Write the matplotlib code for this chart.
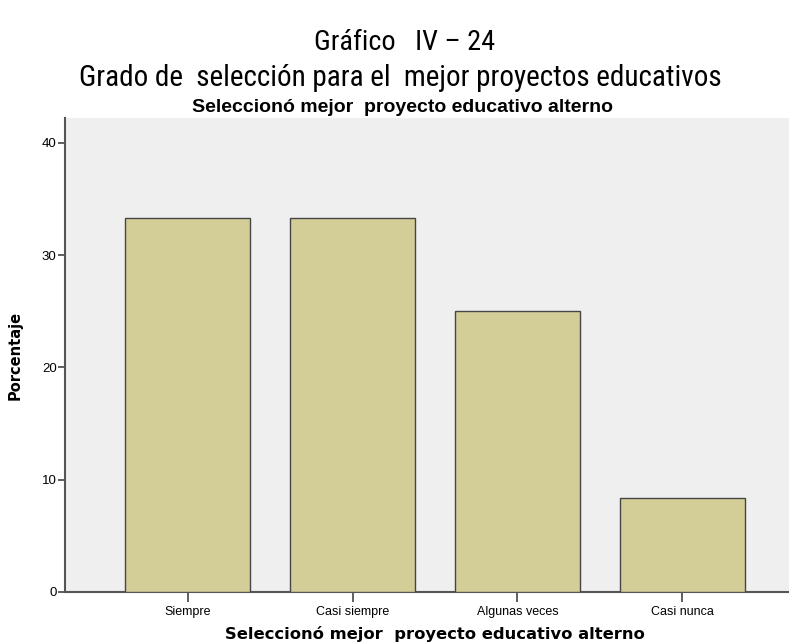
import matplotlib
matplotlib.use("Agg")
import matplotlib.pyplot as plt
from matplotlib import font_manager as fm
import os

categories = ["Siempre", "Casi siempre", "Algunas veces", "Casi nunca"]
values = [33.33, 33.33, 25.0, 8.33]
yticks = [0, 10, 20, 30, 40]

def find_narrow():
    prefs = ["LiberationSansNarrow", "RobotoCondensed", "Roboto_Condensed", "OpenSans_Condensed",
             "OpenSansCondensed", "OpenSans-Condensed", "DejaVuSansCondensed", "NotoSans-Condensed",
             "NotoSansCondensed"]
    files = [f.fname for f in fm.fontManager.ttflist]
    bad = ["bold", "italic", "oblique", "light", "thin", "black", "medium", "semi", "extra"]
    for p in prefs:
        cands = [f for f in files if p.lower() in os.path.basename(f).lower().replace(" ", "")]
        r = [f for f in cands if not any(k in os.path.basename(f).lower() for k in bad)]
        if r:
            return fm.FontProperties(fname=sorted(r, key=len)[0])
    return None

nar = find_narrow()

def title_fp(size):
    if nar is not None:
        p = nar.copy()
        p.set_size(size)
        return p
    return fm.FontProperties(family="Liberation Sans", size=size * 0.9)

fig = plt.figure(figsize=(7.89, 6.43), dpi=100)
ax = fig.add_axes([65/789, 1-592/643, 740/789, (592-118)/643])
ax.set_facecolor("#EFEFEF")
x = list(range(len(categories)))
ax.bar(x, values, width=0.76, color="#D3CE98", edgecolor="#454545", linewidth=1.0, zorder=3)
ax.set_xlim(-0.745, 3.745)
ax.set_ylim(0, 42.2)
ax.set_xticks(x)
ax.set_xticklabels(categories, fontsize=9, family="Liberation Sans")
ax.set_yticks(yticks)
ax.set_yticklabels([str(t) for t in yticks], fontsize=9.5, family="Liberation Sans")
for s in ["top", "right"]:
    ax.spines[s].set_visible(False)
for s in ["left", "bottom"]:
    ax.spines[s].set_color("#555555")
    ax.spines[s].set_linewidth(1.5)
ax.tick_params(axis="y", length=5, width=1.2, color="#444444", pad=1)
ax.tick_params(axis="x", length=7, width=1.2, color="#444444", pad=3)

ax.set_ylabel("Porcentaje", fontsize=10.5, fontweight="bold", family="DejaVu Sans", labelpad=14)
ax.set_xlabel("Seleccionó mejor  proyecto educativo alterno", fontsize=11.8, fontweight="bold",
              family="DejaVu Sans", labelpad=6)

fig.text(0.513, 1-43/643, "Gráfico   IV – 24", ha="center", va="center", fontproperties=title_fp(20.3))
fig.text(0.507, 1-78/643, "Grado de  selección para el  mejor proyectos educativos", ha="center",
         va="center", fontproperties=title_fp(21))
fig.text(0.51, 1-108/643, "Seleccionó mejor  proyecto educativo alterno", ha="center", va="center",
         fontsize=14, fontweight="bold", family="Liberation Sans")

fig.savefig("out.png", dpi=100)
